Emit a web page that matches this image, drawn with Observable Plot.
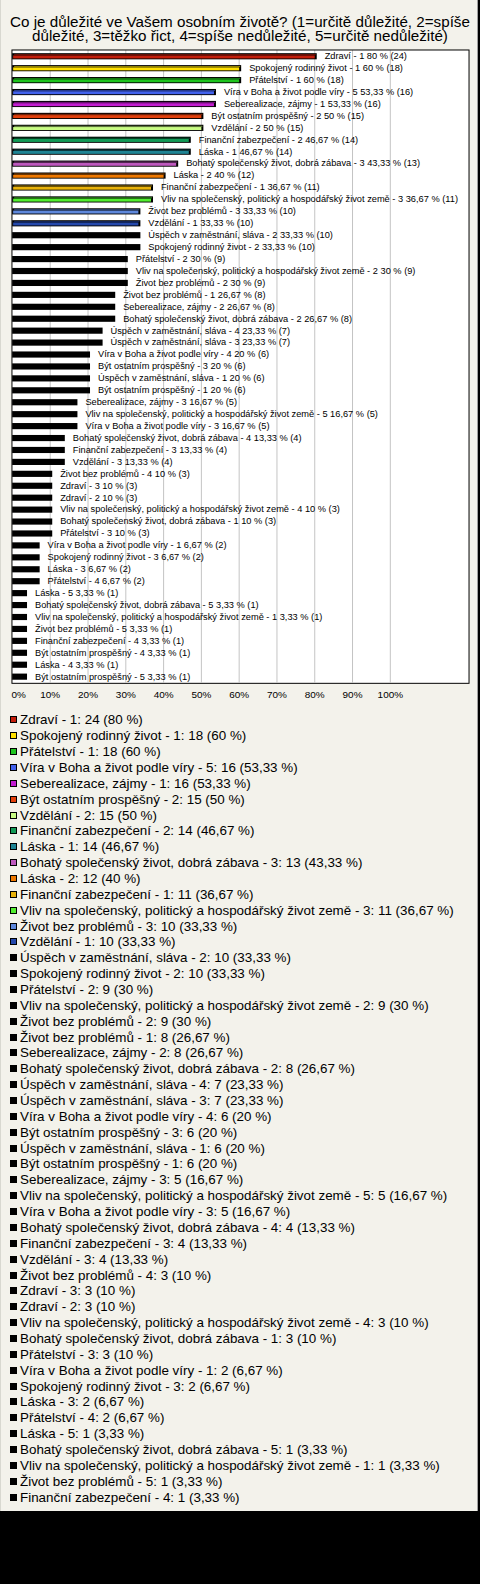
<!DOCTYPE html>
<html>
<head>
<meta charset="utf-8">
<script src="https://cdn.jsdelivr.net/npm/d3@7"></script>
<script src="https://cdn.jsdelivr.net/npm/@observablehq/plot@0.6"></script>
<style>
  html, body { margin: 0; padding: 0; background: #000; }
  body { width: 480px; height: 1584px; overflow: hidden; font-family: "Liberation Sans", Arial, sans-serif; }
  #panel { position: relative; width: 478px; height: 1511px; background: #f3f2eb; overflow: hidden;
           box-sizing: border-box; border-right: 1px solid #a0a0a0; border-left: 1px solid #d8d8d0; }
  #title { position: absolute; top: 14.5px; left: 0; width: 478px; text-align: center; font-size: 15.2px; line-height: 14px; color: #000; }
  #chart { position: absolute; top: 47px; left: -1px; }
  #legend { position: absolute; top: 712px; left: 9px; }
  .row { height: 15.86px; display: flex; align-items: center; font-size: 13.4px; color: #000; white-space: nowrap; }
  .sw { width: 7px; height: 7px; box-sizing: border-box; border: 1px solid #000; margin-right: 3px; flex: none; }
</style>
</head>
<body>
<div id="panel">
  <div id="title">Co je důležité ve Vašem osobním životě? (1=určitě důležité, 2=spíše<br>důležité, 3=těžko řict, 4=spíše nedůležité, 5=určitě nedůležité)</div>
  <div id="chart"></div>
  <div id="legend"></div>
</div>
<script>
const names = [
  "Zdraví", "Spokojený rodinný život", "Přátelství", "Víra v Boha a život podle víry", "Seberealizace, zájmy",
  "Být ostatním prospěšný", "Vzdělání", "Finanční zabezpečení", "Láska", "Bohatý společenský život, dobrá zábava",
  "Láska", "Finanční zabezpečení", "Vliv na společenský, politický a hospodářský život země", "Život bez problémů", "Vzdělání",
  "Úspěch v zaměstnání, sláva", "Spokojený rodinný život", "Přátelství", "Vliv na společenský, politický a hospodářský život země", "Život bez problémů",
  "Život bez problémů", "Seberealizace, zájmy", "Bohatý společenský život, dobrá zábava", "Úspěch v zaměstnání, sláva", "Úspěch v zaměstnání, sláva",
  "Víra v Boha a život podle víry", "Být ostatním prospěšný", "Úspěch v zaměstnání, sláva", "Být ostatním prospěšný", "Seberealizace, zájmy",
  "Vliv na společenský, politický a hospodářský život země", "Víra v Boha a život podle víry", "Bohatý společenský život, dobrá zábava", "Finanční zabezpečení", "Vzdělání",
  "Život bez problémů", "Zdraví", "Zdraví", "Vliv na společenský, politický a hospodářský život země", "Bohatý společenský život, dobrá zábava",
  "Přátelství", "Víra v Boha a život podle víry", "Spokojený rodinný život", "Láska", "Přátelství",
  "Láska", "Bohatý společenský život, dobrá zábava", "Vliv na společenský, politický a hospodářský život země", "Život bez problémů", "Finanční zabezpečení",
  "Být ostatním prospěšný", "Láska", "Být ostatním prospěšný"
];
const codes = [
  1, 1, 1, 5, 1, 2, 2, 2, 1, 3,
  2, 1, 3, 3, 1, 2, 2, 2, 2, 2,
  1, 2, 2, 4, 3, 4, 3, 1, 1, 3,
  5, 3, 4, 3, 3, 4, 3, 2, 4, 1,
  3, 1, 3, 3, 4, 5, 5, 1, 5, 4,
  4, 4, 5
];
const counts = [
  24, 18, 18, 16, 16, 15, 15, 14, 14, 13,
  12, 11, 11, 10, 10, 10, 10, 9, 9, 9,
  8, 8, 8, 7, 7, 6, 6, 6, 6, 5,
  5, 5, 4, 4, 4, 3, 3, 3, 3, 3,
  3, 2, 2, 2, 2, 1, 1, 1, 1, 1,
  1, 1, 1
];
const percents = [
  80, 60, 60, 53.33, 53.33, 50, 50, 46.67, 46.67, 43.33,
  40, 36.67, 36.67, 33.33, 33.33, 33.33, 33.33, 30, 30, 30,
  26.67, 26.67, 26.67, 23.33, 23.33, 20, 20, 20, 20, 16.67,
  16.67, 16.67, 13.33, 13.33, 13.33, 10, 10, 10, 10, 10,
  10, 6.67, 6.67, 6.67, 6.67, 3.33, 3.33, 3.33, 3.33, 3.33,
  3.33, 3.33, 3.33
];
const palette = [
  "#c41e0c", "#ffe000", "#1ec41e", "#4262ee", "#c21cd0",
  "#e3400c", "#c8fc84", "#129a56", "#1f8494", "#bd58bd",
  "#ee7800", "#e8b20a", "#52ee30", "#5e88dc", "#2448ac"
];
const xTicks = [0, 10, 20, 30, 40, 50, 60, 70, 80, 90, 100];
const visibleLegendRows = 50;

const fmt = v => String(v).replace(".", ",");
const data = names.map((n, i) => ({
  i, name: n, code: codes[i], count: counts[i], pct: percents[i],
  color: palette[i] || "#000000"
}));
data.forEach(d => {
  d.top = d.color === "#000000" ? "#000000" : d3.color(d.color).darker(1.3).formatHex();
  d.label = `${d.name} - ${d.code} ${fmt(d.pct)} % (${d.count})`;
  d.legend = `${d.name} - ${d.code}: ${d.count} (${fmt(d.pct)} %)`;
});

const chart = Plot.plot({
  width: 479, height: 663,
  marginLeft: 12, marginRight: 9, marginTop: 3, marginBottom: 25,
  x: { domain: [0, 120.7], axis: null },
  y: { domain: d3.range(names.length), axis: null, padding: 0 },
  style: { background: "transparent", fontFamily: "'Liberation Sans', Arial, sans-serif", overflow: "visible" },
  marks: [
    Plot.frame({ fill: "white", inset: -0.5 }),
    Plot.ruleX(xTicks.slice(1), { stroke: "#c4c4c4", strokeWidth: 1 }),
    Plot.barX(data, { x1: 0, x2: "pct", y: "i", fill: "#000", insetTop: 3.2, insetBottom: 2.6, insetLeft: 0.2, insetRight: -2.5 }),
    Plot.barX(data, { x1: 0, x2: "pct", y: "i", fill: "top", insetTop: 4.2, insetBottom: 6.8, insetLeft: 2.2, insetRight: -1.5 }),
    Plot.barX(data, { x1: 0, x2: "pct", y: "i", fill: "color", insetTop: 5.5, insetBottom: 3.5, insetLeft: 1.2, insetRight: -0.5 }),
    Plot.text(data, { x: "pct", y: "i", text: "label", dx: 10, dy: -0.3, textAnchor: "start", fontSize: 9.3, fill: "#000" }),
    Plot.frame({ stroke: "#000", strokeWidth: 1, inset: -0.5 }),
    Plot.text(xTicks.slice(0, 1), { x: d => d, text: d => `${d}%`, frameAnchor: "bottom", dy: 15, dx: -1, textAnchor: "start", fontSize: 10, fill: "#000" }),
    Plot.text(xTicks.slice(1), { x: d => d, text: d => `${d}%`, frameAnchor: "bottom", dy: 15, fontSize: 10, fill: "#000" })
  ]
});
document.getElementById("chart").appendChild(chart);

const legend = document.getElementById("legend");
data.slice(0, visibleLegendRows).forEach(d => {
  const row = document.createElement("div");
  row.className = "row";
  const sw = document.createElement("span");
  sw.className = "sw";
  sw.style.background = d.color;
  const t = document.createElement("span");
  t.textContent = d.legend;
  row.appendChild(sw);
  row.appendChild(t);
  legend.appendChild(row);
});
</script>
</body>
</html>
